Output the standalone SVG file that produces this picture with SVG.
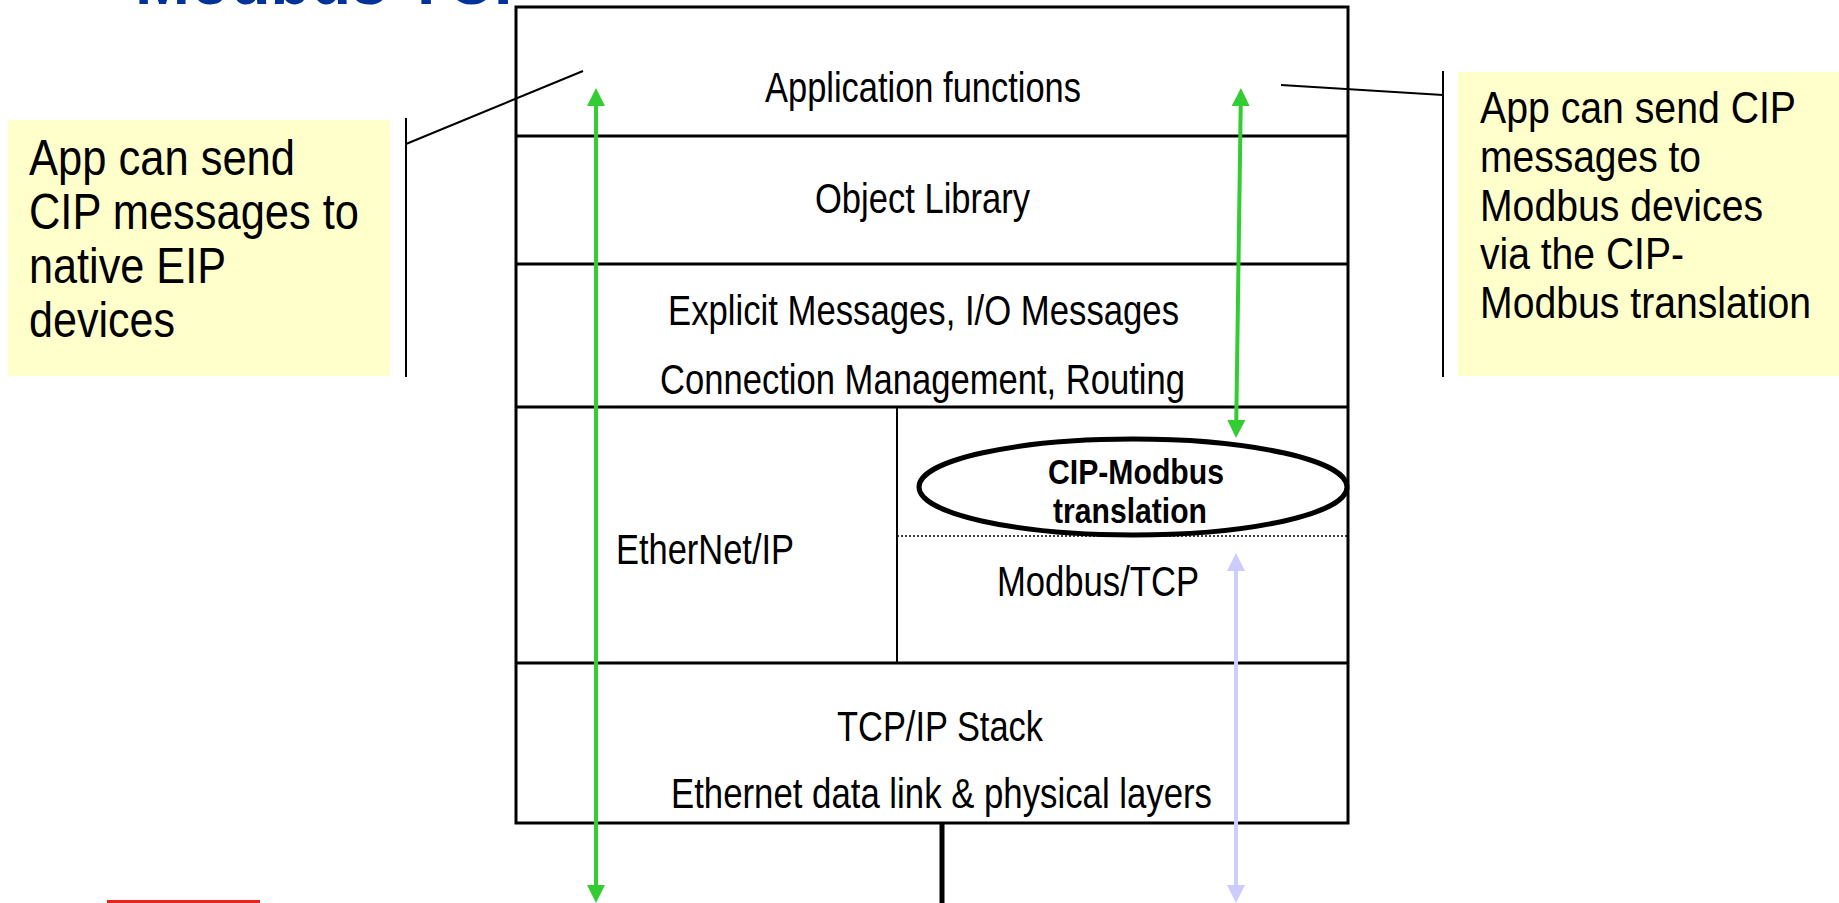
<svg xmlns="http://www.w3.org/2000/svg" width="1839" height="903" viewBox="0 0 1839 903">
<defs>
<style>
.t{font-family:"Liberation Sans",Arial,sans-serif;font-size:42px;fill:#000}
.b{font-family:"Liberation Sans",Arial,sans-serif;font-size:35px;font-weight:bold;fill:#000}
.cl{font-family:"Liberation Sans",Arial,sans-serif;font-size:50px;fill:#000}
.cr{font-family:"Liberation Sans",Arial,sans-serif;font-size:45px;fill:#000}
.ttl{font-family:"Liberation Sans",Arial,sans-serif;font-size:72px;font-weight:bold;fill:#003399}
.ln{stroke:#000;stroke-width:3;fill:none}
.thin{stroke:#000;stroke-width:2;fill:none}
.note{fill:#FFFFCC;stroke:none}
</style>
<marker id="ag" viewBox="0 0 18 18" refX="6" refY="9" markerWidth="18" markerHeight="18" markerUnits="userSpaceOnUse" orient="auto-start-reverse"><path d="M0,0 L18,9 L0,18 z" fill="#33CC33"/></marker>
<marker id="al" viewBox="0 0 18 18" refX="6" refY="9" markerWidth="18" markerHeight="18" markerUnits="userSpaceOnUse" orient="auto-start-reverse"><path d="M0,0 L18,9 L0,18 z" fill="#CCCCFF"/></marker>
</defs>
<rect width="1839" height="903" fill="#fff"/>
<g id="title"><text class="ttl" x="135" y="4" textLength="403" lengthAdjust="spacingAndGlyphs">Modbus TCP</text></g>
<g id="stack">
<rect class="ln" x="516" y="7" width="832" height="816"/>
<line class="ln" x1="516" y1="136" x2="1348" y2="136"/>
<line class="ln" x1="516" y1="264" x2="1348" y2="264"/>
<line class="ln" x1="516" y1="407" x2="1348" y2="407"/>
<line class="ln" x1="516" y1="663" x2="1348" y2="663"/>
</g>
<g id="app"><text class="t" x="765" y="102" textLength="316" lengthAdjust="spacingAndGlyphs">Application functions</text></g>
<g id="objlib"><text class="t" x="815" y="213" textLength="215" lengthAdjust="spacingAndGlyphs">Object Library</text></g>
<g id="msgs">
<text class="t" x="668" y="325" textLength="511" lengthAdjust="spacingAndGlyphs">Explicit Messages, I/O Messages</text>
<text class="t" x="660" y="394" textLength="525" lengthAdjust="spacingAndGlyphs">Connection Management, Routing</text>
</g>
<g id="eip">
<line class="thin" x1="897" y1="407" x2="897" y2="663"/>
<text class="t" x="616" y="564" textLength="178" lengthAdjust="spacingAndGlyphs">EtherNet/IP</text>
</g>
<g id="modbus">
<line x1="897" y1="536" x2="1348" y2="536" stroke="#000" stroke-width="1.6" stroke-dasharray="2,2"/>
<text class="t" x="997" y="596" textLength="202" lengthAdjust="spacingAndGlyphs">Modbus/TCP</text>
</g>
<g id="translation">
<ellipse cx="1133" cy="487" rx="214" ry="48" fill="#fff" stroke="#000" stroke-width="5"/>
<text class="b" x="1048" y="484" textLength="176" lengthAdjust="spacingAndGlyphs">CIP-Modbus</text>
<text class="b" x="1053" y="523" textLength="154" lengthAdjust="spacingAndGlyphs">translation</text>
</g>
<g id="tcpip">
<text class="t" x="837" y="741" textLength="206" lengthAdjust="spacingAndGlyphs">TCP/IP Stack</text>
<text class="t" x="671" y="808" textLength="541" lengthAdjust="spacingAndGlyphs">Ethernet data link &amp; physical layers</text>
</g>
<g id="note-left">
<rect class="note" x="8" y="120" width="382" height="256"/>
<text class="cl" x="29" y="175" textLength="266" lengthAdjust="spacingAndGlyphs">App can send</text>
<text class="cl" x="29" y="229" textLength="330" lengthAdjust="spacingAndGlyphs">CIP messages to</text>
<text class="cl" x="29" y="283" textLength="197" lengthAdjust="spacingAndGlyphs">native EIP</text>
<text class="cl" x="29" y="337" textLength="146" lengthAdjust="spacingAndGlyphs">devices</text>
</g>
<g id="note-right">
<rect class="note" x="1458" y="72" width="381" height="304"/>
<text class="cr" x="1480" y="123" textLength="316" lengthAdjust="spacingAndGlyphs">App can send CIP</text>
<text class="cr" x="1480" y="172" textLength="221" lengthAdjust="spacingAndGlyphs">messages to</text>
<text class="cr" x="1480" y="221" textLength="283" lengthAdjust="spacingAndGlyphs">Modbus devices</text>
<text class="cr" x="1480" y="269" textLength="204" lengthAdjust="spacingAndGlyphs">via the CIP-</text>
<text class="cr" x="1480" y="318" textLength="331" lengthAdjust="spacingAndGlyphs">Modbus translation</text>
</g>
<g id="connectors">
<polyline class="thin" points="406,118 406,377"/>
<line class="thin" x1="406" y1="144" x2="583" y2="71"/>
<polyline class="thin" points="1443,71 1443,377"/>
<line class="thin" x1="1443" y1="95" x2="1281" y2="85"/>
<line x1="596" y1="100" x2="596" y2="891" stroke="#33CC33" stroke-width="4" marker-start="url(#ag)" marker-end="url(#ag)"/>
<line x1="1240.8" y1="100" x2="1236.2" y2="426" stroke="#33CC33" stroke-width="4" marker-start="url(#ag)" marker-end="url(#ag)"/>
<line x1="1236" y1="565" x2="1236" y2="891" stroke="#CCCCFF" stroke-width="4" marker-start="url(#al)" marker-end="url(#al)"/>
<line x1="942" y1="823" x2="942" y2="903" stroke="#000" stroke-width="5"/>
</g>
<rect x="107" y="900" width="153" height="3" fill="#E8221C"/>
</svg>
